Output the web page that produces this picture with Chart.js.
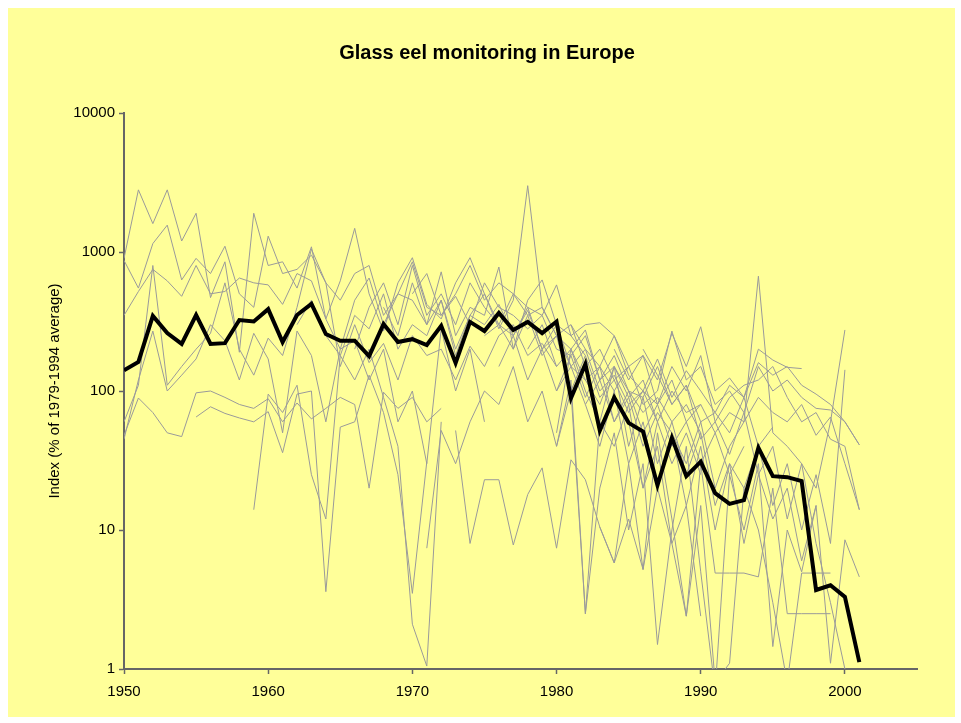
<!DOCTYPE html>
<html>
<head>
<meta charset="utf-8">
<script src="https://cdn.jsdelivr.net/npm/chart.js@4.4.1/dist/chart.umd.min.js"></script>
<style>
    body { margin: 0; background: #ffffff; }
    .content {
        position: absolute;
        left: 8px;
        top: 8px;
        width: 947px;
        height: 709px;
        background: #ffff99;
    }
</style>
</head>
<body>
<div class="content">
    <canvas id="eelChart"></canvas>
</div>
<script>
// tick labels
let yearTicks = [1950, 1960, 1970, 1980, 1990, 2000];
let indexTicks = [1, 10, 100, 1000, 10000];

// European mean index (black line), 1950-2001
let europeStart = 1950;
let europeIndex = [141, 162, 347, 261, 218, 352, 218, 221, 324, 316,
                   388, 225, 352, 423, 257, 230, 230, 178, 303, 225,
                   236, 214, 294, 159, 314, 270, 364, 275, 314, 261,
                   316, 89, 156, 52, 90, 59, 51, 21, 46, 24.4,
                   31, 18.4, 15.4, 16.4, 39, 24.4, 24, 22.5, 3.7, 4.0,
                   3.3, 1.12];

// individual monitoring sites (grey lines): first year + values
let siteStarts = [1950, 1950, 1950, 1950, 1950, 1950, 1955, 1959, 1962, 1966,
                  1971, 1973, 1970, 1975, 1978, 1980, 1980, 1980, 1983, 1985,
                  1984, 1981, 1986, 1968, 1976, 1982];

let site01 = [900, 2800, 1600, 2800, 1200, 1900, 470, 850, 190, 1900, 800, 850, 550, 1090, 330, 620, 1480, 500, 270, 600, 910, 420, 330, 600, 910, 500, 280, 450, 3000, 400, 250, 300, 150, 200, 120, 150];
let site02 = [870, 550, 1150, 1560, 630, 900, 700, 1100, 500, 400, 1300, 700, 750, 950, 600, 450, 700, 800, 350, 500, 450, 300, 720, 250, 400, 350, 780, 200, 450, 630, 300, 250, 180];
let site03 = [350, 520, 750, 620, 480, 800, 500, 520, 650, 600, 580, 420, 700, 620, 330, 200, 450, 650, 300, 500, 850, 400, 350, 480, 300, 600, 400, 350, 280, 350, 200, 180, 250, 120, 150, 100, 70, 90, 60, 80, 50];
let site04 = [60, 110, 800, 110, 150, 200, 260, 600, 200, 130, 240, 180, 400, 1050, 600, 150, 300, 160, 220, 120, 250, 180, 200, 120, 210, 150, 250, 300, 180, 220, 150];
let site05 = [48, 89, 70, 50, 47, 97, 100, 90, 80, 75, 88, 60, 82, 63, 75, 90, 80, 20, 98, 75, 90, 60, 75];
let site06 = [45, 120, 270, 100, 130, 170, 300, 230, 120, 260, 170, 50, 270, 180, 60, 200, 230, 120, 200, 60, 100, 30, 280, 100, 200, 60];
let site07 = [65, 77, 69, 64, 60, 71, 36, 95, 100, 3.6, 55, 60, 130, 70, 25, 3.5, 31];
let site08 = [14, 95, 70, 110, 25, 12, 180, 120, 200, 90, 40, 2.1, 1.05, 60];
let site09 = [300, 450, 250, 180, 350, 280, 500, 200, 300, 250, 450, 180, 350, 300, 420, 250, 380, 200, 250, 150, 120, 80, 150, 90, 120, 60, 100, 70, 80];
let site10 = [200, 400, 600, 300, 800, 350, 500, 300, 600, 400, 300, 500, 350, 400, 250, 200, 275, 120, 180, 100, 90, 150, 80, 110, 60, 70, 50, 90, 40, 55];
let site11 = [7.4, 52, 30, 60, 100, 80, 150, 60, 100, 40, 120, 2.5, 60, 40, 80, 20, 60, 30, 50, 25];
let site12 = [52, 8, 23, 23, 7.8, 18, 28, 7.4, 32, 23, 10.5, 5.8, 12, 5.2, 20, 8, 15, 2.4];
let site13 = [500, 700, 350, 500, 800, 450, 600, 500, 400, 350, 580, 250, 300, 310, 250, 150, 180, 120, 260, 150, 290, 100, 124, 90, 200, 167, 148, 145];
let site14 = [250, 300, 200, 350, 180, 250, 100, 180, 90, 120, 70, 100, 80, 120, 60, 80, 50, 70, 60, 90, 70, 60, 80, 48, 65, 30, 14];
let site15 = [200, 300, 150, 200, 120, 150, 100, 150, 80, 100, 270, 120, 150, 80, 100, 70, 150, 100, 120, 90, 75, 73, 60, 41];
let site16 = [100, 150, 80, 120, 60, 90, 40, 70, 50, 30, 60, 20, 40, 60, 670, 50, 40, 30, 20, 60, 275];
let site17 = [50, 200, 100, 60, 150, 40, 90, 30, 60, 25, 50, 15, 30, 20, 40, 15, 30, 10, 25, 8, 142];
let site18 = [40, 100, 2.5, 20, 50, 10, 30, 1.5, 10, 40, 5, 0.7, 25, 10, 30, 1.45, 10, 5, 15, 1.1, 8.5, 4.6];
let site19 = [10.5, 5.8, 30, 5.2, 50, 12, 2.4, 30, 4.9, 4.9, 4.9, 4.6, 20, 2.5, 2.5, 2.5, 2.5];
let site20 = [60, 20, 40, 8, 2.4, 15, 0.8, 1.1, 20, 10, 3, 0.8, 4.9, 4.9, 4.9];
let site21 = [200, 120, 180, 80, 150, 100, 180, 60, 90, 110, 120, 150, 90, 60, 70, 45, 40, 14];
let site22 = [300, 200, 150, 250, 130, 100, 170, 90, 140, 100, 70, 110, 90, 160, 130, 150, 110, 95, 80, 60, 41];
let site23 = [200, 130, 80, 110, 45, 60, 35, 70, 25, 40, 12, 30, 8, 3, 1];
let site24 = [400, 250, 600, 300, 450, 200, 350, 500, 300, 250, 400, 200, 300, 150, 200, 100, 130, 80, 100, 60];
let site25 = [150, 250, 120, 200, 100, 180, 90, 150, 60, 100, 50, 80, 40, 60, 30, 50, 25, 40];
let site26 = [80, 40, 100, 30, 60, 20, 50, 15, 40, 10, 30, 8, 25, 12, 20, 6, 15];

let sites = [site01, site02, site03, site04, site05, site06, site07, site08, site09, site10,
             site11, site12, site13, site14, site15, site16, site17, site18, site19, site20,
             site21, site22, site23, site24, site25, site26];

// turn a start year and its values into points
function toPoints(start, values) {
    return values.map(function (v, i) {
        return { x: start + i, y: v };
    });
}

let datasets = [{
    label: 'Europe',
    data: toPoints(europeStart, europeIndex),
    borderColor: '#000000',
    borderWidth: 4,
    borderJoinStyle: 'miter',
    pointRadius: 0
}];

for (var i = 0; i < sites.length; i++) {
    datasets.push({
        label: 'site ' + (i + 1),
        data: toPoints(siteStarts[i], sites[i]),
        borderColor: '#9a9a9a',
        borderWidth: 1,
        pointRadius: 0
    });
}

Chart.defaults.font.family = '"Liberation Sans", Arial, sans-serif';
Chart.defaults.color = '#000000';

const ctx = document.getElementById('eelChart').getContext('2d');
const eelChart = new Chart(ctx, {
    type: 'line',
    data: { datasets: datasets },
    options: {
        responsive: true,
        maintainAspectRatio: false,
        animation: false,
        // left padding pushes the centred title to where it sits in the original
        layout: { padding: { left: 49, right: 38, top: 0, bottom: 0 } },
        plugins: {
            legend: { display: false },
            tooltip: { enabled: false },
            title: {
                display: true,
                text: 'Glass eel monitoring in Europe',
                font: { size: 20, weight: 'bold' },
                color: '#000000',
                padding: { top: 33, bottom: 48 }
            }
        },
        scales: {
            x: {
                type: 'linear',
                min: 1950,
                max: 2005,
                afterBuildTicks: function (scale) {
                    scale.ticks = yearTicks.map(function (v) { return { value: v }; });
                },
                afterFit: function (scale) { scale.height = 48; },
                ticks: {
                    font: { size: 15 },
                    padding: 9,
                    maxRotation: 0,
                    callback: function (v) { return String(v); }
                },
                grid: {
                    drawOnChartArea: false,
                    drawTicks: true,
                    tickLength: 5,
                    tickColor: '#666666',
                    tickWidth: 1.5
                },
                border: { color: '#666666', width: 2 }
            },
            y: {
                type: 'logarithmic',
                min: 1,
                max: 10000,
                afterBuildTicks: function (scale) {
                    scale.ticks = indexTicks.map(function (v) { return { value: v }; });
                },
                afterFit: function (scale) { scale.width = 67; },
                ticks: {
                    font: { size: 15 },
                    padding: 4,
                    callback: function (v) { return String(v); }
                },
                grid: {
                    drawOnChartArea: false,
                    drawTicks: true,
                    tickLength: 5,
                    tickColor: '#666666',
                    tickWidth: 1.5
                },
                border: { color: '#666666', width: 2 },
                title: {
                    display: true,
                    text: 'Index (% of 1979-1994 average)',
                    font: { size: 15 },
                    color: '#000000',
                    padding: { top: -11, bottom: 0 }
                }
            }
        }
    }
});
</script>
</body>
</html>
